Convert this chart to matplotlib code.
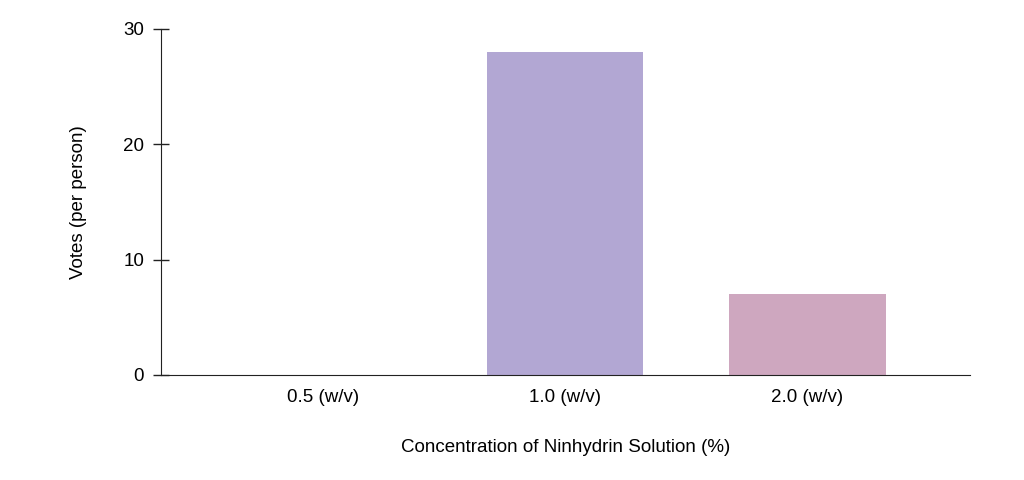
import matplotlib.pyplot as plt

categories = ['0.5 (w/v)', '1.0 (w/v)', '2.0 (w/v)']
votes = [0, 28, 7]
bar_colors = ['#b2a7d3', '#b2a7d3', '#cea7bf']
yticks = [0, 10, 20, 30]

plt.rcParams['font.family'] = ['Liberation Sans', 'DejaVu Sans']

fig = plt.figure(figsize=(10.24, 4.8), dpi=100)
ax = fig.add_axes([0.157, 0.219, 0.79, 0.721])

x = range(len(categories))
ax.bar(x, votes, width=0.645, color=bar_colors, zorder=2)

ax.set_xlim(-0.67, 2.67)
ax.set_ylim(0, 30)
ax.set_xticks(list(x))
ax.set_xticklabels(categories)
ax.set_yticks(yticks)

for s in ['top', 'right']:
    ax.spines[s].set_visible(False)
ax.spines['left'].set_color('#222222')
ax.spines['bottom'].set_color('#222222')
ax.tick_params(axis='y', direction='inout', length=12, width=1, color='#222222',
               labelsize=13.5, pad=6)
ax.tick_params(axis='x', length=0, labelsize=13.5, pad=10)

ax.set_ylabel('Votes (per person)', fontsize=13.5, labelpad=26)
ax.set_xlabel('Concentration of Ninhydrin Solution (%)', fontsize=13.5, labelpad=24)

fig.savefig('out.png', dpi=100)
